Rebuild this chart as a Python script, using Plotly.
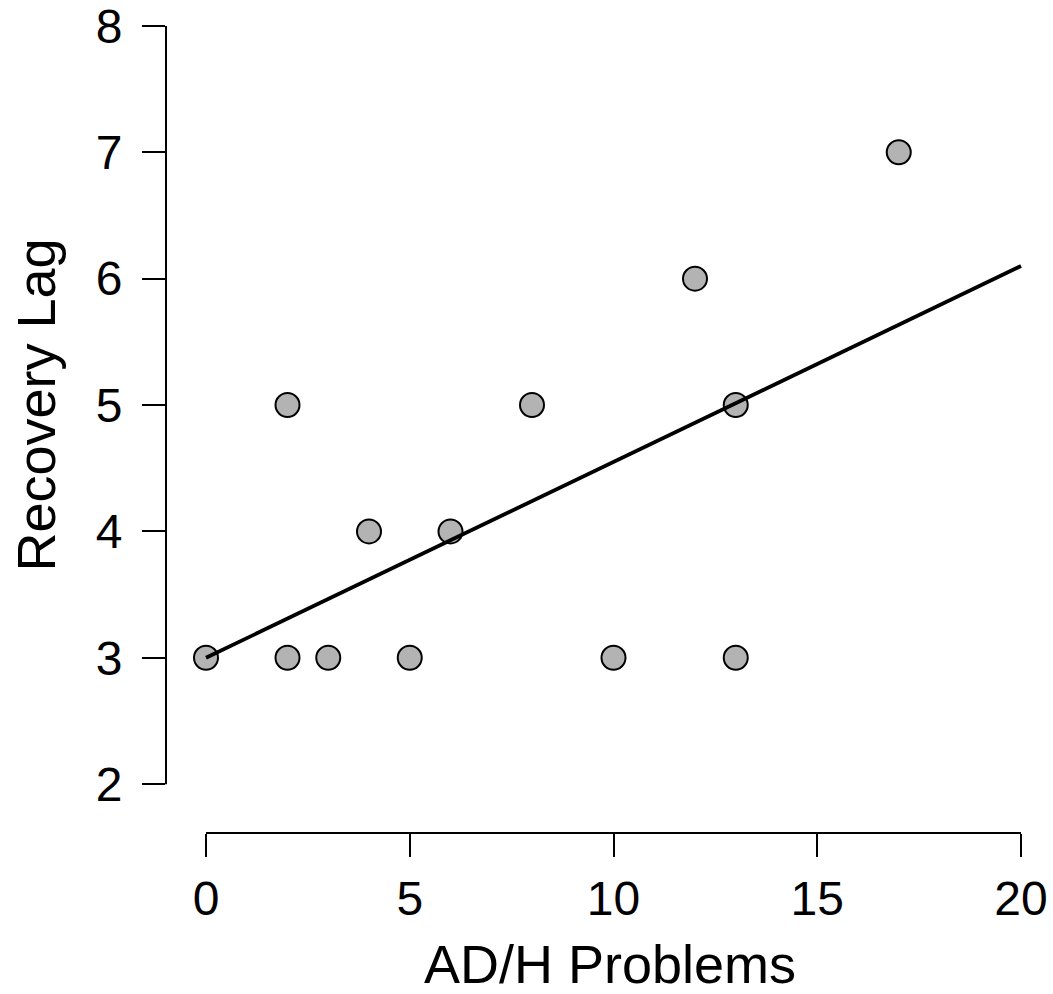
import plotly.graph_objects as go

# ---- data ----
ad_h_problems = [0, 2, 2, 3, 4, 5, 6, 8, 10, 12, 13, 13, 17]
recovery_lag = [3, 5, 3, 3, 4, 3, 4, 5, 3, 6, 5, 3, 7]
fit_x = [0, 20]
fit_y = [3.0, 6.1]
x_ticks = [0, 5, 10, 15, 20]
y_ticks = [2, 3, 4, 5, 6, 7, 8]

# ---- layout geometry (pixels) ----
W, H = 1053, 994
left, bottom_px = 166, 833          # y-axis line x, x-axis line y
x0_px, x20_px = 206, 1021
y2_px, y8_px = 784, 23
ppx = (x20_px - x0_px) / 20.0
ppy = (y2_px - y8_px) / 6.0
xr = [0 - (x0_px - left) / ppx, 20 + (W - x20_px) / ppx]
yr = [2 - (bottom_px - y2_px) / ppy, 8 + y8_px / ppy]

FONT = "Liberation Sans, Arial, sans-serif"

fig = go.Figure()
fig.add_trace(go.Scatter(
    x=ad_h_problems, y=recovery_lag, mode="markers",
    marker=dict(size=24, color="#b3b3b3", line=dict(color="black", width=2)),
    showlegend=False, hoverinfo="skip"))
fig.add_trace(go.Scatter(
    x=fit_x, y=fit_y, mode="lines",
    line=dict(color="black", width=3.8),
    showlegend=False, hoverinfo="skip"))

fig.update_layout(
    width=W, height=H,
    margin=dict(l=left, r=0, t=0, b=H - bottom_px, pad=0),
    plot_bgcolor="white", paper_bgcolor="white",
    font=dict(family=FONT, color="black"),
    xaxis=dict(range=xr, tickvals=x_ticks, ticktext=[str(t) for t in x_ticks],
               ticks="outside", ticklen=23, tickwidth=2, tickcolor="black",
               showgrid=False, zeroline=False, showline=False,
               tickfont=dict(size=48, family=FONT, color="black"),
               ticklabelstandoff=0, ticklabeloverflow="allow", fixedrange=True),
    yaxis=dict(range=yr, tickvals=y_ticks, ticktext=[str(t) for t in y_ticks],
               ticks="outside", ticklen=23, tickwidth=2, tickcolor="black",
               showgrid=False, zeroline=False, showline=False,
               tickfont=dict(size=48, family=FONT, color="black"),
               ticklabelstandoff=10, ticklabeloverflow="allow", fixedrange=True),
    shapes=[
        dict(type="line", xref="x", yref="paper", x0=min(x_ticks), x1=max(x_ticks),
             y0=0, y1=0, line=dict(color="black", width=2)),
        dict(type="line", xref="paper", yref="y", x0=0, x1=0,
             y0=min(y_ticks), y1=max(y_ticks), line=dict(color="black", width=2)),
    ],
    annotations=[
        dict(text="AD/H Problems", xref="paper", yref="paper",
             x=(610 - left) / (W - left), y=-(964 - bottom_px) / bottom_px,
             xanchor="center", yanchor="middle", showarrow=False,
             font=dict(size=54, family=FONT, color="black")),
        dict(text="Recovery Lag", xref="paper", yref="paper",
             x=(36 - left) / (W - left), y=1 - 404 / bottom_px,
             xanchor="center", yanchor="middle", showarrow=False, textangle=-90,
             font=dict(size=54, family=FONT, color="black")),
    ],
)

fig.write_html("out.html", config={"displayModeBar": False},
               post_script="document.body.style.margin='0';document.body.style.overflow='hidden';")
